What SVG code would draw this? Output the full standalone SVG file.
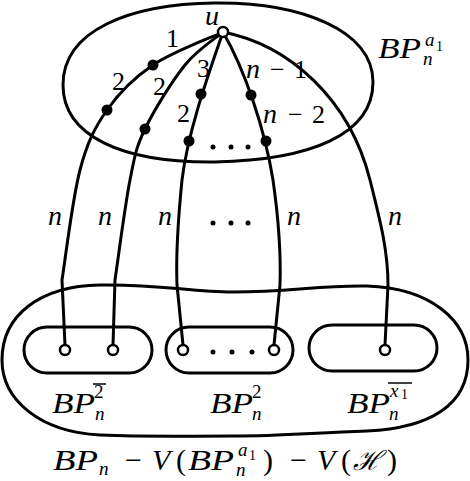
<svg xmlns="http://www.w3.org/2000/svg" width="470" height="481" viewBox="0 0 470 481">
<style>
.ln{fill:none;stroke:#000;stroke-width:3;stroke-linecap:round}
.sh{fill:none;stroke:#000;stroke-width:3}
.dot{fill:#000}
.oc{fill:#fff;stroke:#000;stroke-width:2.5}
.it{font-family:"Liberation Serif","Times New Roman",serif;font-style:italic;fill:#000}
.rm{font-family:"Liberation Serif","Times New Roman",serif;font-style:normal;fill:#000}
.lab{font-size:26px}
.nl{font-size:28px}
.big{font-size:30px}
.sub{font-size:19px}
.ss{font-size:14px}
</style>
<g id="top-region">
<path class="sh" d="M 63,85 C 63,30 130,4 215,3 C 300,2 373,30 373,82 C 373,135 310,160 215,162 C 120,163 63,135 63,85 Z"/>
<text class="it big" x="378" y="58" textLength="43" lengthAdjust="spacingAndGlyphs">BP</text>
<text class="it sub" x="423" y="65">n</text>
<text class="it sub" x="425" y="46">a</text><text class="rm ss" x="436" y="51">1</text>
</g>
<g id="bottom-region">
<path class="sh" d="M 233,292 C 290,292 320,285 367,286 C 430,288 468,320 468,360 C 468,405 430,428 367,431 C 310,433 280,436 233,436 C 180,436 150,437 100,435 C 40,432 2,400 2,360 C 2,315 40,286 100,285 C 160,284 190,292 233,292 Z"/>
<text class="it big" x="53" y="470" textLength="45" lengthAdjust="spacingAndGlyphs">BP</text><text class="it sub" x="99" y="475">n</text>
<text class="rm big" x="125" y="470">−</text>
<text class="it big" x="152" y="470">V</text><text class="rm big" x="176" y="470">(</text>
<text class="it big" x="188" y="470" textLength="46" lengthAdjust="spacingAndGlyphs">BP</text>
<text class="it sub" x="236" y="476">n</text><text class="it sub" x="238" y="456">a</text><text class="rm ss" x="249" y="460">1</text>
<text class="rm big" x="263" y="470">)</text>
<text class="rm big" x="290" y="470">−</text>
<text class="it big" x="317" y="470">V</text><text class="rm big" x="341" y="470">(</text>
<text x="353" y="470" style="font-family:'DejaVu Serif',serif;font-size:27px;font-style:italic">ℋ</text>
<text class="rm big" x="387" y="470">)</text>
</g>
<g id="pill-1">
<rect class="sh" x="24" y="327" width="128" height="46" rx="23"/>
<text class="it big" x="52" y="413" textLength="43" lengthAdjust="spacingAndGlyphs">BP</text>
<text class="rm sub" x="94" y="398">2</text>
<line x1="93" y1="384" x2="106" y2="384" stroke="#000" stroke-width="1.5"/>
<text class="it sub" x="95" y="420">n</text>
</g>
<g id="pill-2">
<rect class="sh" x="166" y="327" width="127" height="46" rx="23"/>
<circle class="dot" cx="213" cy="352" r="2.5"/><circle class="dot" cx="232" cy="352" r="2.5"/><circle class="dot" cx="252" cy="352" r="2.5"/>
<text class="it big" x="210" y="413" textLength="43" lengthAdjust="spacingAndGlyphs">BP</text>
<text class="rm sub" x="252" y="398">2</text>
<text class="it sub" x="252" y="420">n</text>
</g>
<g id="pill-3">
<rect class="sh" x="309" y="325" width="128" height="46" rx="23"/>
<text class="it big" x="347" y="413" textLength="43" lengthAdjust="spacingAndGlyphs">BP</text>
<text class="it sub" x="390" y="397">x</text><text class="rm ss" x="401" y="399">1</text>
<line x1="388" y1="383" x2="412" y2="383" stroke="#000" stroke-width="1.5"/>
<text class="it sub" x="389" y="420">n</text>
</g>
<g id="connectors">
<path class="ln" d="M 223,32 C 211.3,37.5 172.3,52 153,65 C 133.7,78 119.2,92.5 107,110 C 94.8,127.5 87.5,141.7 80,170 C 72.5,198.3 65,261.7 62,280 L 65,345"/>
<path class="ln" d="M 223,32 C 216.7,37.5 198,48.8 185,65 C 172,81.2 154.2,109.8 145,129 C 135.8,148.2 135,154.8 130,180 C 125,205.2 117.5,263.3 115,280 L 113,345"/>
<path class="ln" d="M 223,32 C 210,70 188,130 182,180 C 178,220 176,260 177,285 L 183,345"/>
<path class="ln" d="M 223,32 C 245,70 265,130 273,180 C 278,215 281,255 280,285 L 274,345"/>
<path class="ln" d="M 223,32 C 290,45 350,100 370,180 C 380,220 388,250 388,285 L 385,345"/>
</g>
<g id="edge-dots">
<circle class="dot" cx="153" cy="65" r="5.5"/>
<circle class="dot" cx="107" cy="110" r="5.5"/>
<circle class="dot" cx="145" cy="129" r="5.5"/>
<circle class="dot" cx="201" cy="94" r="5.5"/>
<circle class="dot" cx="189" cy="141" r="5.5"/>
<circle class="dot" cx="251" cy="95" r="5.5"/>
<circle class="dot" cx="266" cy="141" r="5.5"/>
<circle class="dot" cx="213" cy="147" r="2.5"/><circle class="dot" cx="231" cy="147" r="2.5"/><circle class="dot" cx="248" cy="147" r="2.5"/>
<circle class="dot" cx="213" cy="223" r="2.5"/><circle class="dot" cx="231" cy="223" r="2.5"/><circle class="dot" cx="248" cy="223" r="2.5"/>
</g>
<g id="node-u">
<circle class="oc" cx="223" cy="32" r="5"/>
<text class="it nl" x="205" y="25">u</text>
</g>
<g id="end-nodes">
<circle class="oc" cx="65" cy="350" r="5"/>
<circle class="oc" cx="113" cy="350" r="5"/>
<circle class="oc" cx="183" cy="350" r="5"/>
<circle class="oc" cx="274" cy="350" r="5"/>
<circle class="oc" cx="385" cy="350" r="5"/>
</g>
<g id="edge-labels">
<text class="rm lab" x="166" y="47">1</text>
<text class="rm lab" x="112" y="90">2</text>
<text class="rm lab" x="153" y="95">2</text>
<text class="rm lab" x="197" y="77">3</text>
<text class="rm lab" x="177" y="122">2</text>
<text class="it nl" x="246" y="78">n</text><text class="rm lab" x="270" y="78">−</text><text class="rm lab" x="294" y="78">1</text>
<text class="it nl" x="263" y="123">n</text><text class="rm lab" x="288" y="123">−</text><text class="rm lab" x="312" y="123">2</text>
<text class="it nl" x="48" y="225">n</text>
<text class="it nl" x="98" y="225">n</text>
<text class="it nl" x="158" y="225">n</text>
<text class="it nl" x="287" y="225">n</text>
<text class="it nl" x="388" y="225">n</text>
</g>
</svg>
